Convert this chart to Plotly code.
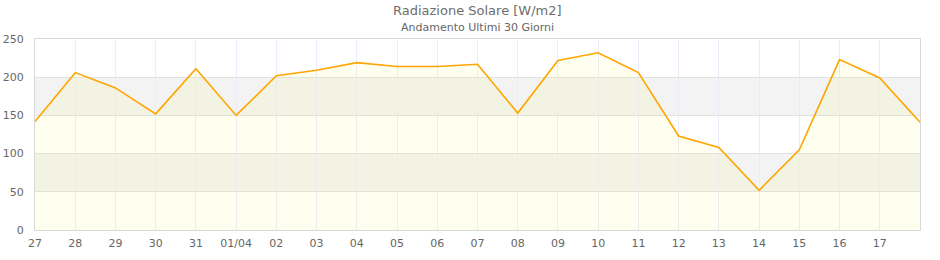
import plotly.graph_objects as go

days = ["27", "28", "29", "30", "31", "01/04", "02", "03", "04", "05", "06", "07",
        "08", "09", "10", "11", "12", "13", "14", "15", "16", "17", "18"]
radiation = [142, 206, 186, 152, 211, 150, 202, 209, 219, 214, 214, 217,
             153, 222, 232, 206, 123, 108, 52, 105, 223, 199, 141]
tick_days = days[:-1]
y_ticks = [0, 50, 100, 150, 200, 250]
bands = [(50, 100), (150, 200)]

FONT = "DejaVu Sans"
TXT = "#666666"

fig = go.Figure()
fig.add_trace(go.Scatter(
    x=days, y=radiation, mode="lines",
    line=dict(color="#ffa500", width=1.6),
    fill="tozeroy", fillcolor="rgba(255,255,0,0.06)",
    hoverinfo="x+y", showlegend=False,
))

for lo, hi in bands:
    fig.add_shape(type="rect", xref="paper", yref="y", x0=0, x1=1, y0=lo, y1=hi,
                  fillcolor="#f3f3f3", line=dict(width=0), layer="below")

fig.update_layout(
    width=940, height=260,
    margin=dict(l=35, r=20, t=39, b=30),
    paper_bgcolor="white", plot_bgcolor="white",
    font=dict(family=FONT, size=11, color=TXT),
    annotations=[
        dict(text="Radiazione Solare [W/m2]", xref="paper", yref="paper",
             x=0.5, y=1, yshift=29, xanchor="center", yanchor="middle",
             showarrow=False, font=dict(family=FONT, size=13, color="#6e6e6e")),
        dict(text="Andamento Ultimi 30 Giorni", xref="paper", yref="paper",
             x=0.5, y=1, yshift=12, xanchor="center", yanchor="middle",
             showarrow=False, font=dict(family=FONT, size=11, color=TXT)),
    ],
)
fig.update_xaxes(
    type="category", range=[0, len(days) - 1], automargin=False,
    tickvals=tick_days, ticktext=tick_days,
    showgrid=True, gridcolor="#ececfa", gridwidth=1,
    showline=True, linecolor="#d9d9d9", linewidth=1, mirror=True,
    ticks="", ticklabelstandoff=3, zeroline=False, tickfont=dict(size=11, color=TXT),
)
fig.update_yaxes(
    range=[0, 250], tickvals=y_ticks, automargin=False,
    showgrid=True, gridcolor="#e2e2e2", gridwidth=1,
    showline=True, linecolor="#d9d9d9", linewidth=1, mirror=True,
    ticks="", ticklabelstandoff=8, zeroline=False, tickfont=dict(size=11, color=TXT),
)

fig.write_html("out.html")
